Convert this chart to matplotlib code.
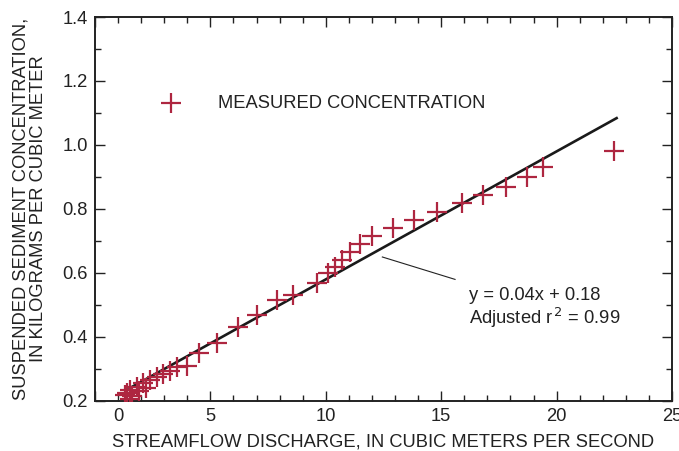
"""
Suspended sediment concentration vs. streamflow discharge, with linear fit.
"""

import numpy as np
import matplotlib.pyplot as plt
from matplotlib.ticker import MultipleLocator

plt.rcParams['font.family'] = ['Liberation Sans', 'DejaVu Sans']

discharge = [22.5, 19.4, 18.7, 17.8, 16.8, 15.9, 14.8, 13.8, 12.9, 12.0,
             11.5, 11.05, 10.7, 10.4, 10.1, 9.6, 8.6, 7.9, 7.0, 6.2,
             5.3, 4.5, 4.0, 3.55, 3.25, 2.95, 2.7, 2.4, 2.1, 1.8,
             1.5, 1.4, 1.6, 1.3, 1.5, 1.9, 2.2]
concentration = [0.98, 0.93, 0.90, 0.87, 0.845, 0.82, 0.79, 0.765, 0.74, 0.715,
                 0.69, 0.665, 0.64, 0.62, 0.60, 0.57, 0.53, 0.515, 0.47, 0.43,
                 0.38, 0.35, 0.31, 0.305, 0.295, 0.285, 0.275, 0.265, 0.255, 0.245,
                 0.235, 0.225, 0.215, 0.22, 0.205, 0.23, 0.24]

# regression line y = 0.04x + 0.18
slope, intercept = 0.04, 0.18
fit_range = [1.5, 22.6]

x_ticks = [0, 5, 10, 15, 20, 25]
y_ticks = [0.2, 0.4, 0.6, 0.8, 1.0, 1.2, 1.4]

red = '#AE2640'
ink = '#222222'
fs = 13.2

fig = plt.figure(figsize=(6.79, 4.51), dpi=100)
ax = fig.add_axes([0.1399, 0.1109, 0.9897 - 0.1399, 0.9623 - 0.1109])

xf = np.array(fit_range)
ax.plot(xf, slope * xf + intercept, color='#1a1a1a', linewidth=1.9, zorder=2)
ax.plot(discharge, concentration, linestyle='none', marker='+', markersize=14,
        markeredgewidth=1.6, color=red, zorder=3)

# legend drawn by hand like the original
ax.plot([3.3], [1.13], linestyle='none', marker='+', markersize=14,
        markeredgewidth=1.6, color=red)
ax.text(5.35, 1.13, 'MEASURED CONCENTRATION', fontsize=fs, color=ink,
        va='center', ha='left')

# equation label with leader line
ax.plot([12.45, 15.6], [0.65, 0.58], color=ink, linewidth=0.8)
ax.text(16.2, 0.49, 'y = 0.04x + 0.18\nAdjusted r$^{\\,2}$ = 0.99', fontsize=fs,
        color=ink, va='center', ha='left', linespacing=1.12)

ax.set_xlim(0, 25)
ax.set_ylim(0.2, 1.4)
# "0" is drawn separately, right of the corner as in the original
ax.set_xticks(x_ticks, [''] + [str(v) for v in x_ticks[1:]])
ax.set_yticks(y_ticks, [f'{v:.1f}' for v in y_ticks])
ax.xaxis.set_minor_locator(MultipleLocator(1))
ax.yaxis.set_minor_locator(MultipleLocator(0.1))
ax.annotate('0', xy=(x_ticks[0], 0), xycoords=('data', 'axes fraction'),
            xytext=(23, -7), textcoords='offset pixels', ha='center', va='top',
            fontsize=fs, color=ink)

ax.tick_params(which='both', direction='in', top=True, right=True,
               labelsize=fs, colors=ink, width=1.0)
ax.tick_params(which='major', length=7, pad=5)
ax.tick_params(which='minor', length=4)
for s in ax.spines.values():
    s.set_linewidth(1.4)
    s.set_color(ink)

ax.set_xlabel('STREAMFLOW DISCHARGE, IN CUBIC METERS PER SECOND', fontsize=fs,
              color=ink, labelpad=6)
ax.set_ylabel('SUSPENDED SEDIMENT CONCENTRATION,\nIN KILOGRAMS PER CUBIC METER',
              fontsize=fs, color=ink, labelpad=11, linespacing=1.1)

plt.savefig('out.png', dpi=100)
